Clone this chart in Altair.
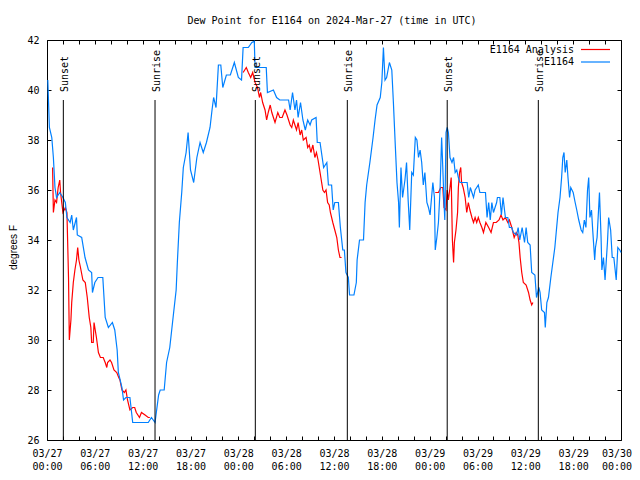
import altair as alt
import pandas as pd

# ---------------- data (hours since 2024-03-27 00:00 UTC, degrees F) ----------------
blue_hours = [0.1, 0.3, 0.6, 0.8, 1.0, 1.2, 1.6, 2.0, 2.3, 2.5, 2.9, 3.1, 3.3, 3.7, 3.8, 4.35, 4.77, 5.2, 5.6, 5.7,
              6.0, 6.4, 7.0, 7.3, 7.7, 8.2, 8.5, 8.8, 8.95, 9.4, 9.6, 9.9, 10.4, 10.75, 11.7, 12.7, 13.1, 13.55,
              14.0, 14.2, 14.7, 15.0, 15.4, 15.85, 16.2, 16.35, 16.6, 16.9, 17.1, 17.45, 17.7, 18.0, 18.4, 18.8,
              19.2, 19.6, 20.0, 20.45, 20.7, 20.9, 21.2, 21.5, 21.8, 22.05, 22.5, 23.0, 23.5, 24.0, 24.4, 24.6,
              25.25, 25.7, 26.0, 26.1, 26.7, 27.5, 27.65, 28.4, 28.8, 29.2, 30.3, 30.5, 30.8, 31.1, 31.3, 31.5,
              31.8, 32.1, 32.4, 32.7, 33.0, 33.2, 33.75, 33.9, 34.25, 34.7, 35.1, 35.3, 35.7, 35.9, 36.1, 36.55,
              36.8, 37.1, 37.3, 37.5, 37.8, 37.95, 38.5, 38.8, 38.9, 39.2, 39.7, 39.9, 40.1, 40.5, 40.9, 41.15,
              41.4, 41.8, 42.0, 42.2, 42.4, 42.6, 42.95, 43.25, 43.45, 43.7, 43.9, 44.1, 44.2, 44.4, 44.6, 44.9,
              45.1, 45.3, 45.5, 45.75, 45.95, 46.2, 46.4, 46.6, 46.8, 47.0, 47.2, 47.4, 47.65, 47.85, 48.05, 48.4,
              48.6, 48.7, 48.9, 49.1, 49.3, 49.5, 49.6, 49.8, 49.9, 50.05, 50.2, 50.35, 50.55, 50.8, 51.0, 51.2,
              51.4, 51.6, 51.8, 52.7, 52.9, 53.1, 53.5, 53.7, 53.9, 54.1, 54.3, 55.0, 55.2, 55.4, 55.6, 55.8,
              56.0, 56.4, 56.5, 56.8, 57.0, 57.2, 57.5, 57.8, 58.0, 58.3, 58.5, 58.9, 59.1, 59.3, 59.6, 59.9,
              60.1, 60.3, 60.6, 60.8, 61.2, 61.4, 61.7, 61.85, 62.05, 62.4, 62.5, 62.7, 62.9, 63.2, 63.45, 63.7,
              63.9, 64.1, 64.35, 64.55, 64.7, 64.85, 65.0, 65.2, 65.35, 65.55, 65.7, 66.0, 66.25, 66.45, 66.7,
              67.0, 67.2, 67.4, 67.6, 67.8, 67.95, 68.1, 68.3, 68.45, 68.7, 68.8, 69.0, 69.3, 69.5, 69.6, 69.8,
              70.0, 70.3, 70.45, 70.7, 70.9, 71.1, 71.4, 71.6, 71.85, 72.0]
blue_values = [40.4, 38.5, 38.1, 37.3, 36.1, 35.7, 35.9, 35.7, 35.5, 34.9, 34.7, 35.0, 34.4, 34.9, 34.2, 34.1, 33.3,
               32.8, 32.7, 31.9, 32.3, 32.5, 32.5, 30.9, 30.5, 30.7, 30.4, 29.6, 28.7, 28.1, 27.6, 27.7, 27.7,
               26.7, 26.7, 26.7, 26.9, 26.7, 27.8, 28.0, 28.0, 29.1, 29.7, 31.0, 32.0, 33.1, 34.7, 35.9, 36.9,
               37.5, 38.3, 36.8, 36.3, 37.3, 37.9, 37.5, 37.9, 38.5, 39.2, 39.7, 39.3, 41.0, 41.0, 40.1, 40.6,
               40.6, 41.1, 40.5, 40.4, 41.7, 41.7, 41.9, 41.95, 40.9, 40.9, 40.9, 39.9, 40.0, 39.7, 39.6, 39.6,
               39.2, 39.9, 39.2, 39.6, 38.9, 39.5, 38.8, 38.4, 38.8, 38.6, 38.8, 38.9, 37.9, 37.9, 36.9, 37.1,
               36.2, 36.2, 35.2, 35.5, 35.5, 34.5, 33.6, 33.6, 32.7, 32.5, 31.8, 31.8, 32.3, 33.2, 34.0, 34.0,
               35.5, 36.2, 37.1, 38.1, 38.8, 39.4, 39.7, 40.3, 41.7, 40.4, 40.5, 41.1, 40.8, 39.5, 37.7, 36.3,
               35.5, 34.5, 36.9, 35.7, 36.4, 37.1, 35.6, 34.4, 36.7, 36.6, 38.1, 38.0, 37.3, 37.6, 37.1, 36.2,
               36.7, 35.5, 35.3, 35.0, 36.3, 35.7, 33.6, 34.1, 34.7, 36.0, 38.1, 37.3, 35.5, 34.8, 38.3, 38.5,
               38.3, 37.3, 37.1, 37.3, 36.7, 36.8, 36.5, 36.3, 36.3, 35.7, 36.1, 35.7, 36.0, 36.1, 36.2, 35.9,
               35.9, 34.9, 35.5, 34.8, 35.5, 35.1, 35.5, 35.7, 35.7, 35.0, 35.7, 34.9, 34.9, 34.5, 34.5, 34.3,
               34.2, 34.5, 34.0, 34.5, 33.9, 34.5, 33.9, 33.8, 32.7, 32.6, 31.7, 32.1, 31.9, 31.2, 31.1, 30.5,
               31.5, 31.7, 32.5, 33.1, 33.7, 34.4, 35.1, 35.7, 36.5, 37.3, 37.5, 36.7, 37.2, 36.5, 35.7, 36.1,
               35.9, 35.5, 35.2, 34.8, 34.4, 34.3, 34.8, 34.5, 36.0, 36.5, 34.9, 35.2, 34.4, 33.2, 33.7, 34.1,
               35.9, 34.1, 32.8, 33.3, 32.4, 33.9, 34.9, 34.4, 33.3, 33.3, 32.4, 33.7, 33.6, 33.5]

red_hours = [0.7, 0.8, 1.0, 1.2, 1.4, 1.6, 1.7, 2.0, 2.3, 2.5, 2.7, 2.8, 3.0, 3.1, 3.3, 3.5, 3.7, 3.85, 4.0, 4.2,
             4.5, 4.8, 5.05, 5.3, 5.5, 5.6, 5.8, 5.9, 6.2, 6.45, 6.7, 7.05, 7.3, 7.5, 7.6, 7.9, 8.1, 8.4, 8.75,
             9.0, 9.15, 9.4, 9.7, 9.9, 10.1, 10.4, 10.75, 11.0, 11.2, 11.6, 11.85, 12.3, 12.7, 12.9,
             24.6, 25.0, 25.25, 25.55, 25.8, 26.1, 26.4, 26.65, 26.8, 27.05, 27.35, 27.55, 27.75, 28.0, 28.2,
             28.4, 28.6, 28.95, 29.2, 29.5, 29.85, 30.1, 30.5, 30.7, 30.9, 31.1, 31.3, 31.5, 31.75, 31.95, 32.15,
             32.5, 32.7, 32.9, 33.1, 33.35, 33.6, 33.8, 34.0, 34.2, 34.35, 34.6, 34.8, 35.0, 35.2, 35.4, 35.55,
             35.85, 36.1, 36.35, 36.55, 36.75, 36.95,
             48.7, 49.1, 49.4, 49.65, 49.8, 50.05, 50.2, 50.35, 50.55, 50.7, 50.85, 51.0, 51.1, 51.3, 51.5, 51.6,
             51.75, 51.9, 52.0, 52.2, 52.45, 52.65, 52.85, 53.05, 53.3, 53.5, 53.7, 53.9, 54.1, 54.3, 54.55,
             54.75, 55.05, 55.4, 55.7, 56.0, 56.35, 56.7, 56.95, 57.2, 57.5, 57.8, 58.0, 58.3, 58.6, 58.85,
             59.05, 59.2, 59.35, 59.55, 59.75, 60.1, 60.4, 60.6, 60.8, 60.95]
red_values = [36.9, 35.1, 35.6, 35.5, 36.1, 36.4, 35.9, 35.1, 35.3, 35.1, 32.5, 30.0, 30.8, 31.5, 32.3, 32.8, 33.2,
              33.7, 33.2, 32.9, 32.4, 32.3, 31.7, 30.9, 30.5, 29.9, 29.9, 30.7, 30.1, 29.5, 29.3, 29.3, 29.1,
              28.9, 29.1, 29.2, 29.1, 28.8, 28.7, 28.5, 28.4, 28.0, 27.9, 28.0, 27.6, 27.2, 27.3, 27.3, 27.1,
              26.9, 27.1, 27.0, 26.9, 26.9,
              40.7, 40.9, 40.7, 40.5, 40.7, 40.3, 40.1, 39.7, 39.9, 39.5, 39.2, 38.8, 39.1, 39.4, 39.1, 38.9,
              38.7, 39.1, 38.9, 38.9, 39.2, 39.0, 38.6, 38.5, 38.8, 38.6, 38.4, 38.7, 38.2, 38.4, 38.0, 38.1,
              37.7, 37.8, 37.5, 37.8, 37.3, 37.5, 37.2, 36.8, 36.5, 36.0, 35.9, 36.0, 35.5, 35.4, 35.1, 34.7,
              34.4, 34.1, 33.6, 33.3, 33.3,
              35.9, 35.9, 36.1, 36.1, 35.3, 35.2, 36.0, 35.6, 36.1, 36.5, 34.0, 33.1, 33.9, 34.4, 35.1, 36.1,
              36.7, 36.9, 36.3, 36.1, 35.7, 35.1, 35.5, 35.2, 34.9, 34.7, 34.9, 34.7, 34.9, 34.7, 34.5, 34.3,
              34.7, 34.5, 34.3, 34.7, 34.7, 34.8, 35.0, 34.8, 34.9, 34.7, 34.8, 34.5, 34.1, 34.3, 34.2, 33.9,
              33.3, 32.7, 32.3, 32.2, 31.9, 31.6, 31.4, 31.5]
red_segment = [1] * 54 + [2] * 53 + [3] * 56

sun_hours = [2.05, 13.55, 26.13, 37.67, 50.2, 61.63]
sun_labels = ["Sunset", "Sunrise", "Sunset", "Sunrise", "Sunset", "Sunrise"]

legend_names = ["E1164 Analysis", "E1164"]
legend_colors = ["#ff0000", "#0080ff"]

chart_title = ["Dew Point for E1164 on 2024-Mar-27 (time in UTC)"]

x_ticks = list(range(0, 73, 2))
y_ticks = list(range(26, 43, 2))

# ---------------- styling ----------------
MONO = "DejaVu Sans Mono"
W, H = 574, 400

blue = pd.DataFrame({"h": blue_hours, "v": blue_values})
red = pd.DataFrame({"h": red_hours, "v": red_values, "seg": red_segment})
sun = pd.DataFrame({"h": sun_hours, "label": sun_labels})

xs = alt.Scale(domain=[0, 72], nice=False, zero=False)
ys = alt.Scale(domain=[26, 42], nice=False, zero=False)

label_expr = ("datum.value % 6 == 0 ? ['03/' + (27 + floor(datum.value / 24)), "
              "(datum.value % 24 < 10 ? '0' : '') + (datum.value % 24) + ':00'] : ''")

tick_common = dict(labels=False, domain=False, grid=False, tickSize=4, tickColor="black",
                   tickWidth=1, title=None)

x_label_axis = alt.Axis(orient="bottom", values=x_ticks, labelExpr=label_expr, tickSize=0, domain=False,
                        grid=False, title=None, labelFont=MONO, labelFontSize=10, labelColor="black",
                        labelPadding=8, labelLineHeight=13, labelBaseline="top", labelAngle=0,
                        labelOverlap=False, labelFlush=False, labelBound=False,
                        labelOffset=alt.condition("datum.value == 72", alt.value(-4.5), alt.value(0)))
y_label_axis = alt.Axis(orient="left", values=y_ticks, tickSize=0, domain=False, grid=False,
                        labelFont=MONO, labelFontSize=10, labelColor="black", labelPadding=8,
                        labelFlush=False, format="d",
                        title="degrees F", titleFont="Liberation Sans", titleFontSize=10,
                        titleFontWeight="normal", titleColor="black", titleAngle=270,
                        titleX=-34, titleY=207, titleAlign="center", titleBaseline="middle")


def axis_layer(xaxis, yaxis):
    return alt.Chart(blue).mark_point(opacity=0).encode(
        x=alt.X("h:Q", scale=xs, axis=xaxis),
        y=alt.Y("v:Q", scale=ys, axis=yaxis),
    )


ax_labels = axis_layer(x_label_axis, y_label_axis)
ax_ticks_a = axis_layer(alt.Axis(orient="top", offset=-H, values=x_ticks, **tick_common),
                        alt.Axis(orient="right", offset=-W, values=y_ticks, **tick_common))
ax_ticks_b = axis_layer(alt.Axis(orient="bottom", offset=-H, values=x_ticks, **tick_common),
                        alt.Axis(orient="left", offset=-W, values=y_ticks, **tick_common))

red_line = alt.Chart(red).mark_line(color=legend_colors[0], strokeWidth=1.2).encode(
    x=alt.X("h:Q", scale=xs, axis=None),
    y=alt.Y("v:Q", scale=ys, axis=None),
    detail="seg:N",
)
blue_line = alt.Chart(blue).mark_line(color=legend_colors[1], strokeWidth=1.2).encode(
    x=alt.X("h:Q", scale=xs, axis=None),
    y=alt.Y("v:Q", scale=ys, axis=None),
)

sun_rules = alt.Chart(sun).mark_rule(color="black", strokeWidth=1).encode(
    x=alt.X("h:Q", scale=xs, axis=None),
    y=alt.value(60),
    y2=alt.value(H),
)
sun_text = alt.Chart(sun).mark_text(angle=270, align="left", baseline="middle", font=MONO,
                                    fontSize=10, color="black", dy=2).encode(
    x=alt.X("h:Q", scale=xs, axis=None),
    y=alt.value(52),
    text="label:N",
)

title_text = alt.Chart(pd.DataFrame({"t": chart_title})).mark_text(
    align="center", baseline="alphabetic", font=MONO, fontSize=10, color="black"
).encode(x=alt.value(W / 2 - 2), y=alt.value(-16), text="t:N")

legend_layers = []
for i, (name, col) in enumerate(zip(legend_names, legend_colors)):
    src = pd.DataFrame({"name": [name]})
    ypos = 9.5 + 12.5 * i
    legend_layers.append(
        alt.Chart(src).mark_text(align="right", baseline="middle", font=MONO, fontSize=10,
                                 color="black").encode(
            x=alt.value(527), y=alt.value(ypos), text="name:N"))
    legend_layers.append(
        alt.Chart(src).mark_rule(color=col, strokeWidth=1.2).encode(
            x=alt.value(534), x2=alt.value(563), y=alt.value(ypos)))

chart = alt.layer(
    ax_labels, ax_ticks_a, ax_ticks_b, red_line, blue_line, sun_rules, sun_text, title_text, *legend_layers
).resolve_axis(
    x="independent", y="independent"
).properties(
    width=W,
    height=H,
    padding={"left": 39, "top": 32, "right": 11, "bottom": 40},
    autosize=alt.AutoSizeParams(type="none"),
    background="white",
).configure_view(stroke="black", strokeWidth=1)

chart.save("out.html", embed_options={"renderer": "svg", "actions": False})
